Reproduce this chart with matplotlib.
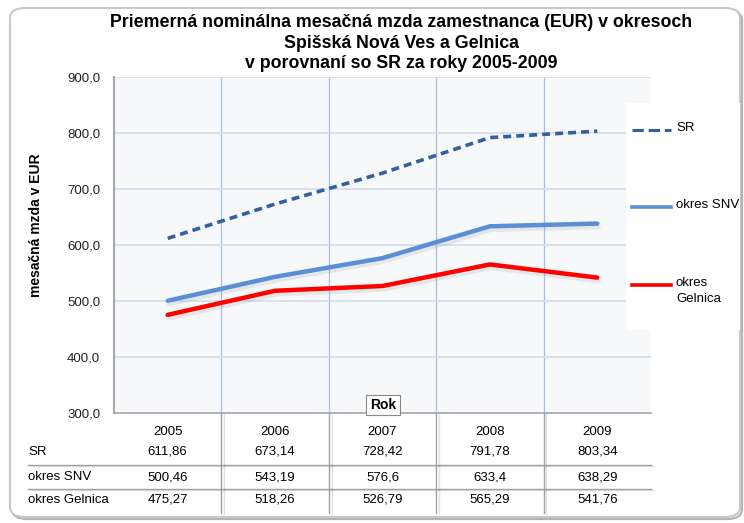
import matplotlib.pyplot as plt
import matplotlib.patheffects as pe
from matplotlib.patches import FancyBboxPatch, Rectangle
from matplotlib.lines import Line2D
import numpy as np

roky = ['2005', '2006', '2007', '2008', '2009']
nazvy = ['SR', 'okres SNV', 'okres Gelnica']
sr = [611.86, 673.14, 728.42, 791.78, 803.34]
snv = [500.46, 543.19, 576.6, 633.4, 638.29]
gelnica = [475.27, 518.26, 526.79, 565.29, 541.76]
tab_texty = [['611,86', '673,14', '728,42', '791,78', '803,34'],
             ['500,46', '543,19', '576,6', '633,4', '638,29'],
             ['475,27', '518,26', '526,79', '565,29', '541,76']]

plt.rcParams['font.family'] = ['Liberation Sans', 'DejaVu Sans']

W, H = 744, 523
fig = plt.figure(figsize=(W / 100, H / 100), dpi=100)

def fx(px):
    return px / W

def fy(py):
    return 1 - py / H

# ram okolo grafu
ramik = FancyBboxPatch((fx(10), fy(517)), fx(730), 509 / H,
                       boxstyle='round,pad=0,rounding_size=0.02',
                       transform=fig.transFigure, fc='white', ec='#c8c8c8',
                       lw=1.5, zorder=-5,
                       path_effects=[pe.SimpleLineShadow(offset=(1.5, -1.5), alpha=0.3), pe.Normal()])
fig.patches.append(ramik)

ax = fig.add_axes([fx(114), fy(413), fx(651) - fx(114), (413 - 77) / H])
ax.set_facecolor('#f7f8fa')
x = np.arange(len(roky))

tien = [pe.SimpleLineShadow(offset=(1, -2.5), alpha=0.15, shadow_color='gray'), pe.Normal()]
ax.plot(x, sr, color='#33609f', lw=2.6, ls=(0, (2.2, 1.4)), label='SR', zorder=3)
ax.plot(x, snv, color='#5a8fd6', lw=3.2, label='okres SNV', solid_capstyle='round',
        zorder=3, path_effects=tien)
ax.plot(x, gelnica, color='#ff0000', lw=3.2, label='okres\nGelnica', solid_capstyle='round',
        zorder=3, path_effects=tien)

ax.set_xlim(-0.5, len(roky) - 0.5)
ax.set_ylim(300, 900)
ax.set_yticks(np.arange(300, 901, 100))
ax.set_yticklabels([f'{v},0' for v in range(300, 901, 100)], fontsize=9.5, color='#222222')
ax.set_xticks(np.arange(0.5, len(roky) - 0.5, 1))
ax.set_xticklabels([])
ax.tick_params(axis='both', length=0, pad=10)
ax.grid(axis='y', color='#d3ddf0', lw=1.2)
ax.grid(axis='x', color='#a9bde2', lw=0.9)
ax.set_axisbelow(True)
for s in ['top', 'right']:
    ax.spines[s].set_visible(False)
ax.spines['left'].set_color('#a8a8a8')
ax.spines['left'].set_linewidth(1.5)
ax.spines['bottom'].set_color('#a8a8a8')
ax.spines['bottom'].set_linewidth(1.2)

fig.text(fx(36), fy(225), 'mesačná mzda v EUR', rotation=90, fontsize=10,
         fontweight='bold', ha='center', va='center')

fig.text(fx(401), fy(43), 'Priemerná nominálna mesačná mzda zamestnanca (EUR) v okresoch\n'
         'Spišská Nová Ves a Gelnica\nv porovnaní so SR za roky 2005-2009',
         ha='center', va='center', fontsize=12.8, fontweight='bold', linespacing=1.25)

# legenda
fig.patches.append(Rectangle((fx(626), fy(330)), fx(740) - fx(626), (330 - 103) / H,
                             transform=fig.transFigure, fc='white', ec='none', zorder=5))
leg_y = [130, 207, 285]
for ln, py in zip(ax.get_lines(), leg_y):
    fig.lines.append(Line2D([fx(632), fx(671)], [fy(py), fy(py)], color=ln.get_color(),
                            lw=2.2 if ln.get_label() == 'SR' else 2.6,
                            ls=ln.get_linestyle(), transform=fig.transFigure, zorder=6))
for nazov, py in zip(['SR', 'okres SNV', 'okres\nGelnica'], leg_y):
    fig.text(fx(676), fy(py - 8), nazov, ha='left', va='top', fontsize=9.5,
             linespacing=1.5, zorder=7)

# popis osi x
fig.text(fx(383), fy(405), 'Rok', ha='center', va='center', fontsize=10, fontweight='bold',
         bbox=dict(boxstyle='square,pad=0.25', fc='white', ec='#888888', lw=0.8), zorder=8)

# tabulka s udajmi
col_x = [fx(114) + (fx(651) - fx(114)) * (i + 0.5) / len(roky) for i in range(len(roky))]
for cx, rok in zip(col_x, roky):
    fig.text(cx, fy(432), rok, ha='center', va='center', fontsize=9.5)
riadky_y = [452, 477, 500]
for nazov, texty, py in zip(nazvy, tab_texty, riadky_y):
    fig.text(fx(28), fy(py), nazov, ha='left', va='center', fontsize=9.5)
    for cx, t in zip(col_x, texty):
        fig.text(cx, fy(py), t, ha='center', va='center', fontsize=9.5)

gtien = [pe.SimpleLineShadow(offset=(2, -1), alpha=0.12), pe.Normal()]
for py in [465, 489]:
    fig.lines.append(Line2D([fx(28), fx(651)], [fy(py), fy(py)], color='#a0a0a0', lw=1.0,
                            transform=fig.transFigure, path_effects=gtien))
for i in range(1, len(roky)):
    px = 114 + (651 - 114) * i / len(roky)
    fig.lines.append(Line2D([fx(px), fx(px)], [fy(413), fy(513)], color='#a0a0a0', lw=1.0,
                            transform=fig.transFigure, path_effects=gtien))

fig.savefig('out.png', dpi=100)
